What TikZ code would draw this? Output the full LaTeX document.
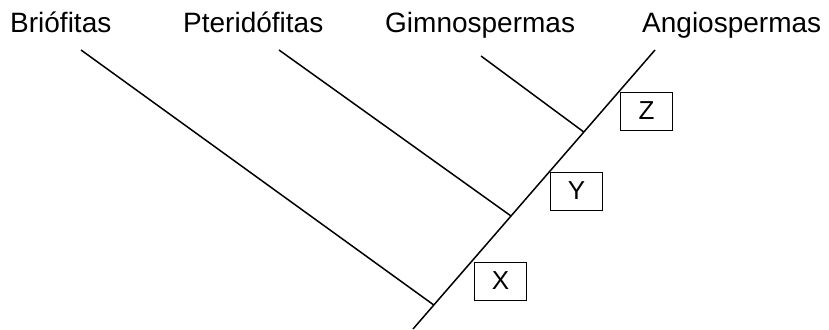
\documentclass[tikz,border=0pt]{standalone}
\usepackage{fontspec}
\setmainfont{Liberation Sans}
\usetikzlibrary{calc}
\begin{document}
\begin{tikzpicture}[x=1pt,y=-1pt,
  lbl/.style={anchor=base west,inner sep=0pt,font=\fontsize{28}{31}\selectfont},
  tag/.style={draw,line width=0.9pt,minimum width=52pt,minimum height=38pt,inner sep=0pt,font=\fontsize{26}{29}\selectfont},
  stem/.style={line width=1.5pt}]
\useasboundingbox (0,0) rectangle (829,329);
\node[lbl] (tb) at (10,33) {Briófitas};
\node[lbl] (tp) at (183,33) {Pteridófitas};
\node[lbl] (tg) at (385,33) {Gimnospermas};
\node[lbl] (ta) at (642,33) {Angiospermas};
\coordinate (bot) at (413,329);
\coordinate (top) at (655,50);
\coordinate (sb) at (81,50);
\coordinate (sp) at (279,50);
\coordinate (sg) at (481,56);
\coordinate (jb) at ($(bot)!0.086!(top)$);
\coordinate (jp) at ($(bot)!0.405!(top)$);
\coordinate (jg) at ($(bot)!0.706!(top)$);
\draw[stem] (bot) -- (top);
\draw[stem] (sb) -- (jb);
\draw[stem] (sp) -- (jp);
\draw[stem] (sg) -- (jg);
\node[tag] (z) at (646.5,111) {Z};
\node[tag] (y) at (576.5,191) {Y};
\node[tag] (x) at (500.5,281) {X};
\end{tikzpicture}
\end{document}
